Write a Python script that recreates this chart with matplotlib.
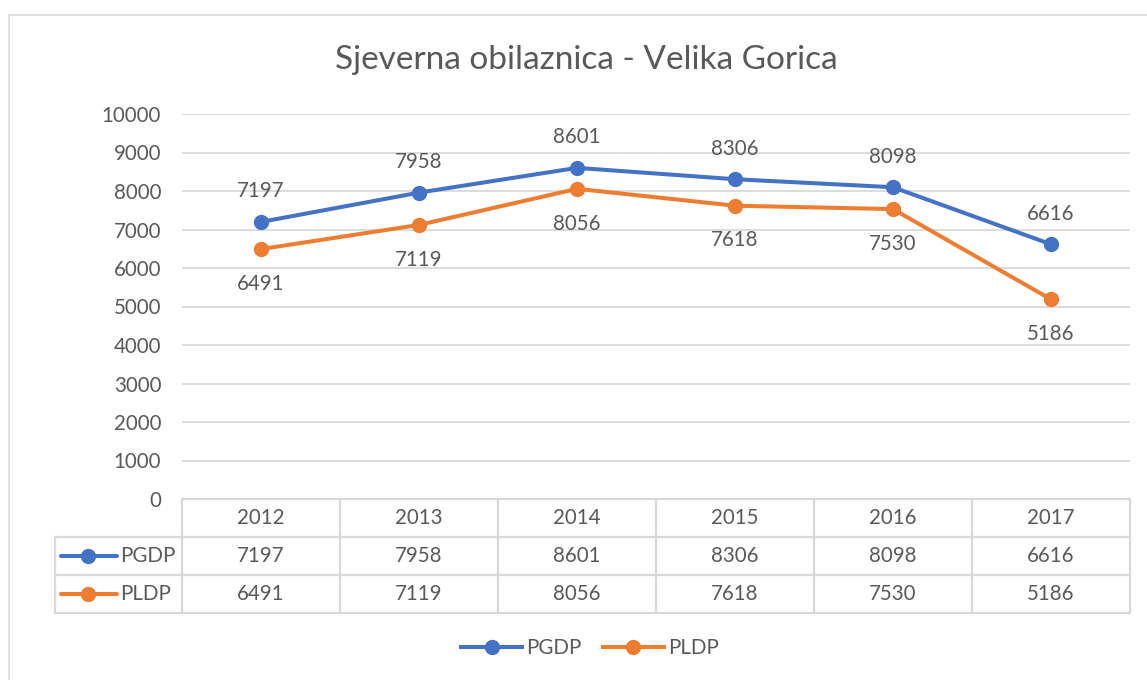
import matplotlib
matplotlib.use("Agg")
import matplotlib.pyplot as plt
from matplotlib.lines import Line2D
from matplotlib.patches import Rectangle

years = ["2012", "2013", "2014", "2015", "2016", "2017"]
pgdp = [7197, 7958, 8601, 8306, 8098, 6616]
pldp = [6491, 7119, 8056, 7618, 7530, 5186]
series_names = ["PGDP", "PLDP"]
yticks = [0, 1000, 2000, 3000, 4000, 5000, 6000, 7000, 8000, 9000, 10000]

blue = "#4472C4"
orange = "#ED7D31"
txt = "#595959"
grid = "#D9D9D9"
fs = 14.8

plt.rcParams['font.family'] = ['Lato', 'DejaVu Sans']

W, H = 1147, 680
fig = plt.figure(figsize=(W / 100, H / 100), dpi=100)

# outer chart border (right / bottom run off the image)
fig.patches.append(Rectangle((9 / W, -0.05), 1.1, 1 - 15 / H + 0.05,
                             transform=fig.transFigure, fill=False,
                             edgecolor=grid, linewidth=1.2))

ax = fig.add_axes([182 / W, 1 - 499 / H, (1130 - 182) / W, 385 / H])
x = list(range(len(years)))
ax.plot(x, pgdp, color=blue, lw=2.9, marker="o", ms=10, zorder=3)
ax.plot(x, pldp, color=orange, lw=2.9, marker="o", ms=10, zorder=3)
for i in x:
    ax.annotate(str(pgdp[i]), (i, pgdp[i]), xytext=(0, 22), textcoords="offset points",
                ha="center", va="center", fontsize=fs, color=txt)
    ax.annotate(str(pldp[i]), (i, pldp[i]), xytext=(0, -25), textcoords="offset points",
                ha="center", va="center", fontsize=fs, color=txt)
ax.set_xlim(-0.5, 5.5)
ax.set_ylim(0, 10000)
ax.set_yticks(yticks)
ax.set_yticklabels([str(v) for v in yticks])
ax.set_xticks([])
ax.tick_params(axis="y", length=0, pad=15, labelsize=fs, labelcolor=txt)
ax.grid(axis="y", color=grid, lw=1.3)
ax.set_axisbelow(True)
for s in ax.spines.values():
    s.set_visible(False)

# data table under the plot
left = -0.5 - 127 / 158
tb = fig.add_axes([55 / W, 1 - 613 / H, (1130 - 55) / W, 114 / H])
tb.set_xlim(left, 5.5)
tb.set_ylim(0, 3)
tb.axis("off")
lc = dict(color=grid, lw=1.6, clip_on=False)
tb.plot([-0.5, 5.5], [3, 3], **lc)
for yy in [2, 1, 0]:
    tb.plot([left, 5.5], [yy, yy], **lc)
tb.plot([left, left], [0, 2], **lc)
for k in range(len(years) + 1):
    tb.plot([k - 0.5, k - 0.5], [0, 3], **lc)
for i, yr in enumerate(years):
    tb.text(i, 2.5, yr, ha="center", va="center", fontsize=fs, color=txt)
    tb.text(i, 1.5, str(pgdp[i]), ha="center", va="center", fontsize=fs, color=txt)
    tb.text(i, 0.5, str(pldp[i]), ha="center", va="center", fontsize=fs, color=txt)
for row, name, col in [(1.5, series_names[0], blue), (0.5, series_names[1], orange)]:
    tb.plot([left + 6 / 158, left + 62 / 158], [row, row], color=col, lw=2.9,
            solid_capstyle="round", clip_on=False)
    tb.plot([left + 33 / 158], [row], marker="o", ms=10, color=col, clip_on=False)
    tb.text(left + 65 / 158, row, name, ha="left", va="center", fontsize=fs, color=txt)

fig.text(586 / W, 1 - 60 / H, "Sjeverna obilaznica - Velika Gorica",
         ha="center", va="center", fontsize=24, color=txt)

handles = [Line2D([], [], color=blue, lw=2.9, marker="o", ms=10),
           Line2D([], [], color=orange, lw=2.9, marker="o", ms=10)]
leg = fig.legend(handles, series_names, loc="center", bbox_to_anchor=(590 / W, 1 - 648 / H),
                 ncol=2, frameon=False, fontsize=fs, handlelength=3.0,
                 handletextpad=0.2, columnspacing=1.0)
for t in leg.get_texts():
    t.set_color(txt)

fig.savefig("out.png", dpi=100)
